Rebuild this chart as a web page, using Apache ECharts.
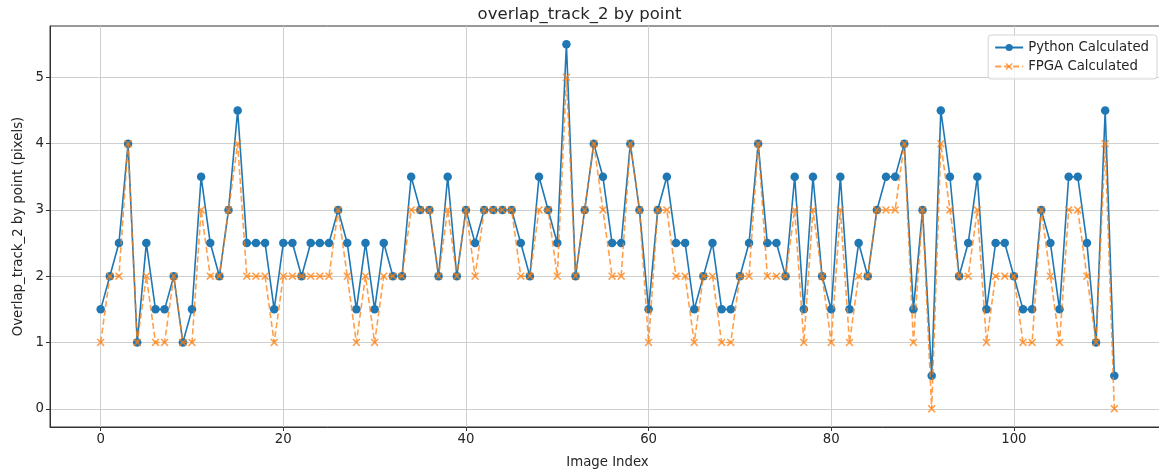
<!DOCTYPE html>
<html>
<head>
<meta charset="utf-8">
<script src="https://cdn.jsdelivr.net/npm/echarts@6/dist/echarts.min.js"></script>
<style>html,body{margin:0;padding:0;background:#fff;}#chart{width:1159px;height:471px;}</style>
</head>
<body>
<div id="chart"></div>
<script>
const imageIndex = [0,1,2,3,4,5,6,7,8,9,10,11,12,13,14,15,16,17,18,19,20,21,22,23,24,25,26,27,28,29,30,31,32,33,34,35,36,37,38,39,40,41,42,43,44,45,46,47,48,49,50,51,52,53,54,55,56,57,58,59,60,61,62,63,64,65,66,67,68,69,70,71,72,73,74,75,76,77,78,79,80,81,82,83,84,85,86,87,88,89,90,91,92,93,94,95,96,97,98,99,100,101,102,103,104,105,106,107,108,109,110,111];
const pythonCalculated = [1.5,2,2.5,4,1,2.5,1.5,1.5,2,1,
1.5,3.5,2.5,2,3,4.5,2.5,2.5,2.5,1.5,
2.5,2.5,2,2.5,2.5,2.5,3,2.5,1.5,2.5,
1.5,2.5,2,2,3.5,3,3,2,3.5,2,
3,2.5,3,3,3,3,2.5,2,3.5,3,
2.5,5.5,2,3,4,3.5,2.5,2.5,4,3,
1.5,3,3.5,2.5,2.5,1.5,2,2.5,1.5,1.5,
2,2.5,4,2.5,2.5,2,3.5,1.5,3.5,2,
1.5,3.5,1.5,2.5,2,3,3.5,3.5,4,1.5,
3,0.5,4.5,3.5,2,2.5,3.5,1.5,2.5,2.5,
2,1.5,1.5,3,2.5,1.5,3.5,3.5,2.5,1,
4.5,0.5];
const fpgaCalculated = [1,2,2,4,1,2,1,1,2,1,
1,3,2,2,3,4,2,2,2,1,
2,2,2,2,2,2,3,2,1,2,
1,2,2,2,3,3,3,2,3,2,
3,2,3,3,3,3,2,2,3,3,
2,5,2,3,4,3,2,2,4,3,
1,3,3,2,2,1,2,2,1,1,
2,2,4,2,2,2,3,1,3,2,
1,3,1,2,2,3,3,3,4,1,
3,0,4,3,2,2,3,1,2,2,
2,1,1,3,2,1,3,3,2,1,
4,0];
const xTicks = [0,20,40,60,80,100];
const yTicks = [0,1,2,3,4,5];

const font = 'DejaVu Sans';
const textColor = '#262626';
const xMark = 'path://M0,1.4L1.4,0L5,3.6L8.6,0L10,1.4L6.4,5L10,8.6L8.6,10L5,6.4L1.4,10L0,8.6L3.6,5Z';

const chart = echarts.init(document.getElementById('chart'), null, {renderer: 'canvas'});
chart.setOption({
  animation: false,
  backgroundColor: '#ffffff',
  title: {
    text: 'overlap_track_2 by point',
    left: 'center', top: 1,
    textStyle: {fontFamily: font, fontSize: 16.5, fontWeight: 'normal', color: textColor}
  },
  grid: {left: 50, width: 1115, top: 26, height: 401, outerBoundsMode: 'none', containLabel: false,
         show: true, borderColor: '#333', borderWidth: 1, backgroundColor: 'transparent'},
  legend: {
    right: 2, top: 35, orient: 'vertical', itemGap: 6,
    padding: [6, 8, 6, 6],
    borderColor: '#d5d5d5', borderWidth: 1, borderRadius: 3,
    backgroundColor: 'rgba(255,255,255,0.8)',
    itemWidth: 28, itemHeight: 9,
    textStyle: {fontFamily: font, fontSize: 13.3, color: textColor},
    data: ['Python Calculated', 'FPGA Calculated']
  },
  xAxis: {
    type: 'value', min: -5.55, max: 116.55,
    name: 'Image Index', nameLocation: 'middle', nameGap: 29,
    nameTextStyle: {fontFamily: font, fontSize: 13.3, color: textColor},
    axisLine: {show: true, onZero: false, lineStyle: {color: '#333', width: 1}},
    axisTick: {show: true, inside: false, length: 4, customValues: xTicks, lineStyle: {color: '#333'}},
    axisLabel: {customValues: xTicks, fontFamily: font, fontSize: 13.3, color: textColor, margin: 6},
    splitLine: {show: true, lineStyle: {color: '#cfcfcf', width: 1}}
  },
  yAxis: {
    type: 'value', min: -0.275, max: 5.775,
    name: 'Overlap_track_2 by point (pixels)', nameLocation: 'middle', nameGap: 24,
    nameTextStyle: {fontFamily: font, fontSize: 13.3, color: textColor},
    axisLine: {show: true, onZero: false, lineStyle: {color: '#333', width: 1}},
    axisTick: {show: true, inside: false, length: 4, customValues: yTicks, lineStyle: {color: '#333'}},
    axisLabel: {customValues: yTicks, fontFamily: font, fontSize: 13.3, color: textColor, margin: 6},
    splitLine: {show: true, lineStyle: {color: '#cfcfcf', width: 1}}
  },
  series: [
    {
      name: 'Python Calculated', type: 'line',
      data: imageIndex.map((x, i) => [x, pythonCalculated[i]]),
      symbol: 'circle', symbolSize: 8.5, showAllSymbol: true,
      itemStyle: {color: '#1f77b4'},
      lineStyle: {color: '#1f77b4', width: 1.6},
      z: 2
    },
    {
      name: 'FPGA Calculated', type: 'line',
      data: imageIndex.map((x, i) => [x, fpgaCalculated[i]]),
      symbol: xMark, symbolSize: 8, showAllSymbol: true,
      itemStyle: {color: '#ff7f0e', opacity: 0.75},
      lineStyle: {color: '#ff7f0e', width: 1.6, type: [6, 3], opacity: 0.75},
      z: 3
    }
  ]
});
</script>
</body>
</html>
